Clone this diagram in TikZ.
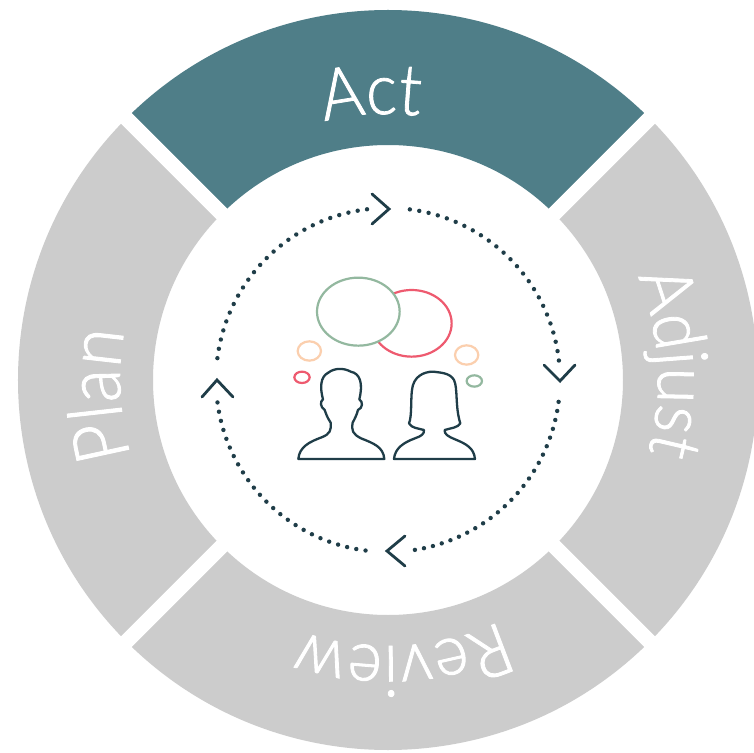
\documentclass[tikz,border=0pt]{standalone}
\usepackage{fontspec}
\usetikzlibrary{decorations.text}
\newfontfamily\labfam[FakeBold=1.2,FakeStretch=0.92]{Lato Light}
\definecolor{actcol}{HTML}{4F7E88}
\definecolor{ringcol}{HTML}{CCCCCC}
\definecolor{inkcol}{HTML}{1F3D48}
\definecolor{greencol}{HTML}{93B89F}
\definecolor{redcol}{HTML}{EE5A6F}
\definecolor{peachcol}{HTML}{FBCFAE}
\newcommand{\labfont}[1]{\labfam\fontsize{#1}{#1}\selectfont\color{white}}
\tikzset{
  x=1pt,y=1pt,
  chev/.style={inkcol,line width=2.8pt,line cap=round,line join=miter},
  person/.style={draw=inkcol,line width=2.3pt,fill=white,line join=round},
  bubble/.style={draw=#1,line width=2.2pt,fill=white},
  curved/.style 2 args={decorate,decoration={text along path,text align=center,text={|\labfont{#1}|#2}}}
}
\newcommand{\seg}[3]{\fill[#1] (#2:370) arc[start angle=#2,end angle=#3,radius=370] -- (#3:235) arc[start angle=#3,end angle=#2,radius=235] -- cycle;}
\newcommand{\dotarc}[2]{\foreach \k in {0,...,24}{\pgfmathsetmacro{\ang}{#1+(#2-#1)*\k/24}\fill[inkcol] (\ang:172) circle[radius=2.2];}}
\begin{document}
\begin{tikzpicture}
\useasboundingbox (-388,-372) rectangle (366,380);
\clip (-388,-372) rectangle (366,380);
\fill[white] (-388,-372) rectangle (366,380);
\seg{actcol}{45}{135}
\seg{ringcol}{135}{225}
\seg{ringcol}{225}{315}
\seg{ringcol}{-45}{45}
\draw[white,line width=15pt] (135:380) -- (135:225) (45:380) -- (45:225) (225:380) -- (225:225) (-45:380) -- (-45:225);
% labels
\path[curved={71}{Act}] (133.5:266) arc[start angle=133.5,end angle=53.5,radius=266];
\path[curved={71}{Adjust}] (43.5:270) arc[start angle=43.5,end angle=-36.5,radius=270];
\path[curved={71}{Review}] (-47:266) arc[start angle=-47,end angle=-127,radius=266];
\path[curved={75}{Plan}] (-137:268) arc[start angle=-137,end angle=-217,radius=268];
% cycle
\dotarc{82.7}{6.5}
\dotarc{-7.3}{-81}
\dotarc{-97.5}{-172.5}
\dotarc{172.7}{97}
\begin{scope}[shift={(-388pt,380pt)},x=1pt,y=-1pt]
\draw[chev] (544,365) -- (560,381) -- (575,365);
\draw[chev] (405,536) -- (387,551) -- (405,566);
\draw[chev] (202,397) -- (217,380) -- (233,397);
\draw[chev] (372,194) -- (389,209) -- (372,224);
\end{scope}
% people, in coordinates of a 3x crop at (280,260)
\begin{scope}[shift={(-108pt,120pt)},x=0.3333pt,y=-0.3333pt]
\draw[bubble=redcol] (395,190) ellipse[x radius=120,y radius=100];
\draw[bubble=greencol] (235,155) ellipse[x radius=124,y radius=102];
\draw[bubble=peachcol] (88,273) ellipse[x radius=35,y radius=29];
\draw[bubble=peachcol] (560,285) ellipse[x radius=35,y radius=29];
\draw[bubble=redcol] (66,352) ellipse[x radius=23,y radius=17];
\draw[bubble=greencol] (583,363) ellipse[x radius=23,y radius=17];
\draw[person] (55,597) .. controls (58,560) and (90,545) .. (125,532)
  .. controls (150,522) and (154,512) .. (152,488)
  .. controls (140,470) and (138,460) .. (134,450)
  .. controls (120,440) and (120,425) .. (129,418)
  .. controls (120,385) and (120,350) .. (145,338)
  .. controls (165,322) and (195,325) .. (212,335)
  .. controls (240,340) and (250,370) .. (238,418)
  .. controls (250,425) and (248,445) .. (234,450)
  .. controls (230,465) and (225,475) .. (218,488)
  .. controls (214,512) and (218,522) .. (243,535)
  .. controls (280,550) and (310,560) .. (313,597) -- cycle;
\draw[person] (342,597) .. controls (345,565) and (370,548) .. (405,535)
  .. controls (425,528) and (433,522) .. (432,510)
  .. controls (415,505) and (395,505) .. (387,490)
  .. controls (396,470) and (392,420) .. (396,390)
  .. controls (400,350) and (430,335) .. (460,335)
  .. controls (480,338) and (510,338) .. (522,360)
  .. controls (534,385) and (525,440) .. (541,490)
  .. controls (535,503) and (510,505) .. (494,510)
  .. controls (492,522) and (505,530) .. (525,538)
  .. controls (560,552) and (582,565) .. (585,597) -- cycle;
\end{scope}
\end{tikzpicture}
\end{document}
